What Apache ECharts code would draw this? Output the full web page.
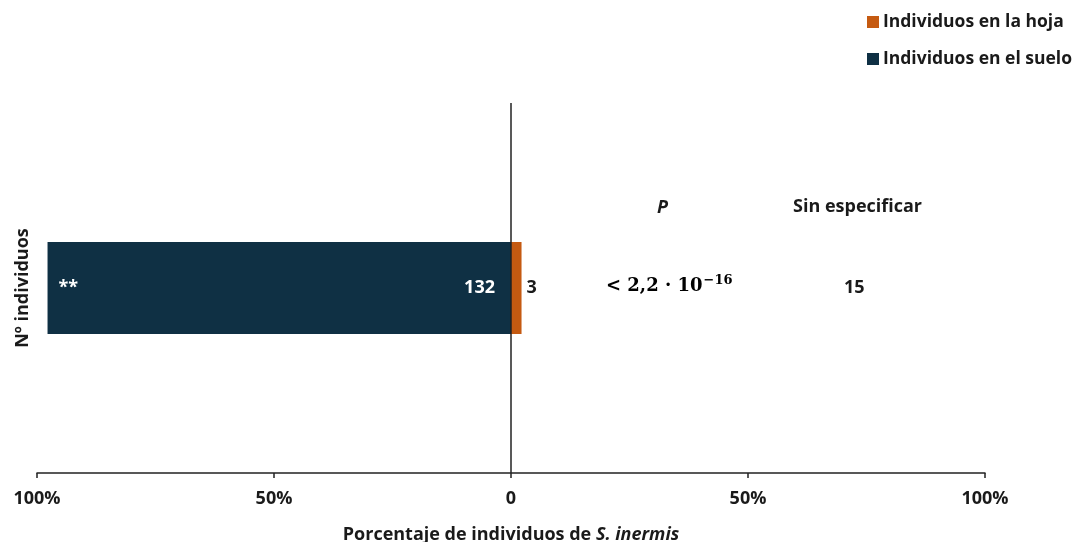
<!DOCTYPE html>
<html>
<head>
<meta charset="utf-8">
<script src="https://cdn.jsdelivr.net/npm/echarts@6/dist/echarts.min.js"></script>
<style>
  html, body { margin: 0; padding: 0; background: #fff; }
  #chart { width: 1079px; height: 542px; }
</style>
</head>
<body>
<div id="chart"></div>
<script>
// Recuentos de S. inermis por ubicación
const categories = ['Nº individuos'];
const sueloCounts = [132];
const hojaCounts = [3];
const sinEspecificar = [15];
const pBase = ['< 2,2 · 10'];
const pExp = ['−16'];
const significance = ['**'];
const tickValues = [-100, -50, 0, 50, 100];

const totals = sueloCounts.map((v, i) => v + hojaCounts[i]);
// suelo a la izquierda (negativo), hoja a la derecha
const sueloPct = sueloCounts.map((v, i) => -v / totals[i] * 100);
const hojaPct = hojaCounts.map((v, i) => v / totals[i] * 100);

const FONT = '"Open Sans", "Noto Sans", sans-serif';
const SERIF = '"DejaVu Serif", "Liberation Serif", serif';
const DARK = '#0f3044';
const ORANGE = '#c55a11';
const INK = '#1a1a1a';

const chart = echarts.init(document.getElementById('chart'), null, { renderer: 'canvas' });

chart.setOption({
  animation: false,
  backgroundColor: '#ffffff',
  textStyle: { fontFamily: FONT },
  legend: {
    orient: 'vertical',
    left: 862,
    top: 8,
    itemGap: 19,
    itemWidth: 12,
    itemHeight: 12,
    icon: 'rect',
    data: ['Individuos en la hoja', 'Individuos en el suelo'],
    textStyle: { fontFamily: FONT, fontWeight: 'bold', fontSize: 17.5, color: INK, padding: [0, 0, 0, -1] }
  },
  grid: { left: 37, right: 94, top: 103, bottom: 69, containLabel: false, outerBoundsMode: 'none' },
  xAxis: {
    type: 'value',
    min: -100,
    max: 100,
    interval: 50,
    axisLine: { show: true, lineStyle: { color: '#222', width: 1.5 } },
    axisTick: { show: true, length: 5, lineStyle: { color: '#222', width: 1.5 } },
    splitLine: { show: false },
    axisLabel: {
      margin: 17,
      fontFamily: FONT,
      fontSize: 18,
      fontWeight: 'bold',
      color: INK,
      formatter: v => tickValues.includes(v) ? (v === 0 ? '0' : Math.abs(v) + '%') : ''
    },
    name: '{a|Porcentaje de individuos de }{b|S. inermis}',
    nameLocation: 'middle',
    nameGap: 53,
    nameTextStyle: {
      rich: {
        a: { fontFamily: FONT, fontSize: 18, fontWeight: 'bold', color: INK },
        b: { fontFamily: FONT, fontSize: 18, fontWeight: 'bold', fontStyle: 'italic', color: INK }
      }
    }
  },
  yAxis: {
    type: 'category',
    data: categories,
    axisLine: { show: false },
    axisTick: { show: false },
    axisLabel: { show: false },
    name: categories[0],
    nameLocation: 'middle',
    nameRotate: 90,
    nameGap: 5,
    nameTextStyle: { fontFamily: FONT, fontSize: 18, fontWeight: 'bold', color: INK }
  },
  series: [
    {
      name: 'Individuos en el suelo',
      type: 'bar',
      stack: 'total',
      barWidth: 92,
      data: sueloPct,
      itemStyle: { color: DARK },
      label: {
        show: true,
        position: 'insideRight',
        distance: 16,
        fontFamily: FONT,
        fontSize: 18,
        fontWeight: 'bold',
        color: '#ffffff',
        formatter: p => String(sueloCounts[p.dataIndex])
      }
    },
    {
      name: 'Individuos en la hoja',
      type: 'bar',
      stack: 'total',
      barWidth: 92,
      data: hojaPct,
      itemStyle: { color: ORANGE },
      label: {
        show: true,
        position: 'right',
        distance: 5,
        fontFamily: FONT,
        fontSize: 18,
        fontWeight: 'bold',
        color: INK,
        formatter: p => String(hojaCounts[p.dataIndex])
      }
    },
    {
      // asteriscos de significación en el extremo izquierdo de la barra
      name: 'sig',
      type: 'bar',
      stack: 'sig',
      barWidth: 92,
      barGap: '-100%',
      data: sueloPct,
      itemStyle: { color: 'transparent' },
      silent: true,
      label: {
        show: true,
        position: 'insideLeft',
        distance: 11,
        fontFamily: FONT,
        fontSize: 18,
        fontWeight: 'bold',
        color: '#ffffff',
        formatter: p => significance[p.dataIndex]
      },
      markLine: {
        silent: true,
        symbol: 'none',
        label: { show: false },
        lineStyle: { color: '#222', width: 1.5, type: 'solid' },
        data: [{ xAxis: 0 }]
      }
    }
  ],
  graphic: [
    {
      type: 'text',
      left: 657, top: 199,
      style: { text: 'P', font: 'italic bold 18px ' + FONT, fill: INK }
    },
    {
      type: 'text',
      left: 793, top: 198,
      style: { text: 'Sin especificar', font: 'bold 18px ' + FONT, fill: INK }
    },
    {
      type: 'text',
      left: 606, top: 274,
      style: {
        text: '{b|' + pBase[0] + '}{s|' + pExp[0] + '}',
        rich: {
          b: { fontFamily: SERIF, fontSize: 18, fontWeight: 'bold', color: INK, lineHeight: 26, verticalAlign: 'middle' },
          s: { fontFamily: SERIF, fontSize: 13, fontWeight: 'bold', color: INK, lineHeight: 16, verticalAlign: 'middle', padding: [0, 0, 12, 1] }
        }
      }
    },
    {
      type: 'text',
      left: 844, top: 279,
      style: { text: String(sinEspecificar[0]), font: 'bold 18px ' + FONT, fill: INK }
    }
  ]
});
</script>
</body>
</html>
